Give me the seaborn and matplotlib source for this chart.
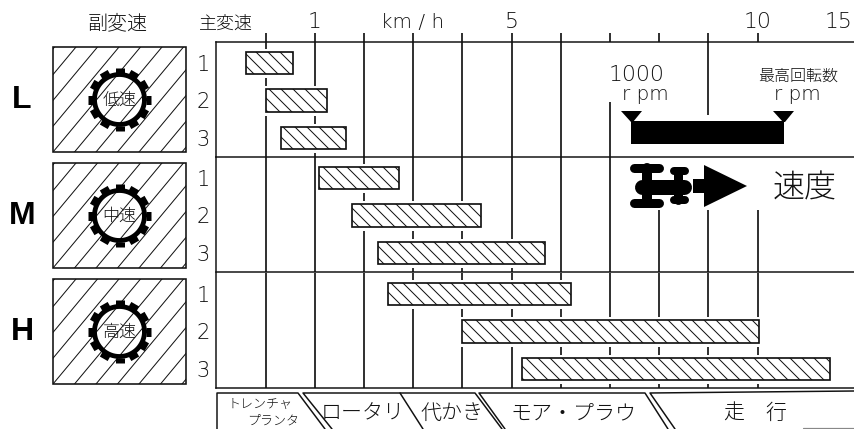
import numpy as np
import seaborn as sns
import matplotlib.pyplot as plt
from matplotlib.patches import Rectangle, Polygon
from matplotlib import patheffects as pe

W, H = 854, 429
FONT = ["Noto Sans CJK JP", "DejaVu Sans"]
LATIN = ["DejaVu Sans", "Noto Sans CJK JP"]
INK = "#111111"

# speed ranges, in km/h as read against the drawn grid
gears = ["L", "M", "H"]
gear_names = ["低速", "中速", "高速"]
main_shift = ["1", "2", "3"]
speed_low = {
    "L": [-0.39, 0.01, 0.31],
    "M": [1.09, 1.75, 2.28],
    "H": [2.49, 3.99, 5.21],
}
speed_high = {
    "L": [0.56, 1.25, 1.64],
    "M": [2.72, 4.38, 5.68],
    "H": [6.21, 10.03, 11.48],
}
grid_speeds = list(range(0, 11))
labelled_speeds = [1, 5, 10]
tab_names = ["ロータリ", "代かき", "モア・プラウ"]

sns.set_theme(style="white")
plt.rcParams["font.family"] = FONT
plt.rcParams["hatch.linewidth"] = 1.0

fig = plt.figure(figsize=(W / 72, H / 72), dpi=72, facecolor="white")


def band_axes(top, bottom, left=216, right=W):
    return fig.add_axes([left / W, 1 - bottom / H, (right - left) / W, (bottom - top) / H])


# grid lines stop short of the rpm block and the tractor sign
# as (speed, axes fraction from, axes fraction to)
grid_cuts = {
    "L": {7: (0, 0.478), 8: None, 9: (0.365, 1), 10: None},
    "M": {8: (0, 0.54), 9: (0, 0.54), 10: (0, 0.54)},
    "H": {},
}

band_tops = [42, 157, 273]
axes = []
for gear, top in zip(gears, band_tops):
    ax = band_axes(top, top + 115)
    axes.append(ax)
    for s in grid_speeds:
        span = grid_cuts[gear].get(s, (0, 1))
        if span is None:
            continue
        ax.plot([s, s], span, color=INK, lw=1.7, transform=ax.get_xaxis_transform(),
                solid_capstyle="butt", zorder=1)
    low = np.array(speed_low[gear])
    high = np.array(speed_high[gear])
    sns.barplot(x=high - low, y=main_shift, left=low, orient="h", ax=ax, color="white",
                saturation=1, width=0.587, edgecolor=INK, linewidth=1.7, hatch="\\\\",
                errorbar=None, zorder=3,
                path_effects=[pe.Stroke(linewidth=7, foreground="white"), pe.Normal()])
    ax.set_xlim((216 - 265.5) / 49.2, (W - 265.5) / 49.2)
    ax.set_ylim(2.5, -0.55)
    ax.set_xlabel("")
    ax.set_ylabel("")
    ax.tick_params(axis="y", length=0, pad=6, labelsize=21, labelcolor=INK,
                   labelfontfamily="DejaVu Sans")
    plt.setp(ax.get_yticklabels(), fontweight="light")
    ax.spines["right"].set_visible(False)
    ax.spines["top"].set_visible(gear == "L")
    for side in ["left", "top", "bottom"]:
        ax.spines[side].set_color(INK)
        ax.spines[side].set_linewidth(1.5)
    ax.patch.set_alpha(0)

for ax in axes[1:]:
    ax.set_xticks([])

# speed scale along the top
top_ax = axes[0]
top_ax.xaxis.tick_top()
top_ax.set_xticks(grid_speeds)
top_ax.set_xticklabels([str(s) if s in labelled_speeds else "" for s in grid_speeds])
top_ax.tick_params(axis="x", top=True, bottom=False, length=9, width=1.7, color=INK,
                   pad=1, labelsize=22, labelcolor=INK,
                   labelfontfamily="DejaVu Sans")
plt.setp(top_ax.get_xticklabels(), fontweight="light")

# everything around the chart is drawn on a sheet in pixel units
sheet = fig.add_axes([0, 0, 1, 1], zorder=10)
sheet.set_xlim(0, W)
sheet.set_ylim(H, 0)
sheet.axis("off")


def label(x, y, s, size, **kw):
    kw.setdefault("color", INK)
    kw.setdefault("fontweight", "light")
    sheet.text(x, y, s, fontsize=size, ha="center", va="center", **kw)


label(118, 24, "副変速", 20)
label(226, 25, "主変速", 18)
label(413, 22, "km / h", 20, family=LATIN)
label(839, 22, "15", 22, family=LATIN)

# sub shift boxes
box_tops = [47, 163, 279]
for gear, name, top in zip(gears, gear_names, box_tops):
    frame = Rectangle((53, top), 133, 105, fc="none", ec=INK, lw=1.6)
    sheet.add_patch(frame)
    for x0 in np.arange(-10, 300, 21.5):
        line, = sheet.plot([x0 - 90, x0], [top + 108, top], color=INK, lw=1.0)
        line.set_clip_path(frame)
    cy = top + 52.5
    theta = np.radians(np.arange(0, 360, 1))
    sheet.plot(119.5 + 25 * np.cos(theta), cy + 25 * np.sin(theta), color="black", lw=4.8)
    for a in np.radians(np.arange(0, 360, 30)):
        sheet.plot([119.5 + 26 * np.cos(a), 119.5 + 31.5 * np.cos(a)],
                   [cy + 26 * np.sin(a), cy + 31.5 * np.sin(a)],
                   color="black", lw=9, solid_capstyle="butt")
    label(119.5, cy + 1, name, 17)
    label(22, cy + 1, gear, 32, family="Liberation Sans", fontweight="bold", color="black")

# engine speed block
sheet.add_patch(Rectangle((631, 121), 153, 23, fc="black", ec="none"))
for x in [632, 784]:
    sheet.add_patch(Polygon([(x - 11, 111), (x + 10, 111), (x + 1, 122), (x - 1, 122)],
                            fc="black", ec="none"))
label(637, 75, "1000", 22, family=LATIN)
label(645, 95, "r pm", 20, family=LATIN)
label(798, 76, "最高回転数", 16)
label(797, 95, "r pm", 20, family=LATIN)

# tractor and arrow
for xs, ys, lw in [([634, 659], [168, 168], 9), ([634, 659], [203, 203], 9),
                   ([647, 647], [168, 203], 10), ([642, 684], [187, 187], 15),
                   ([674, 685], [171, 171], 8), ([674, 685], [200, 200], 8),
                   ([678, 678], [171, 200], 9)]:
    sheet.plot(xs, ys, color="black", lw=lw, solid_capstyle="round")
sheet.add_patch(Rectangle((693, 179), 12, 14, fc="black", ec="none"))
sheet.add_patch(Polygon([(704, 165), (747, 186), (704, 207)], fc="black", ec="none"))
label(805, 188, "速度", 32)

# implement tabs, cut off by the bottom edge
for xs, ys in [([217, 217, 298, 325], [429, 393, 393, 429]),
               ([332, 303, 475, 502], [429, 393, 393, 429]),
               ([400, 423], [393, 429]),
               ([505, 479, 645, 668], [429, 393, 393, 429]),
               ([675, 650, W], [429, 393, 391])]:
    sheet.plot(xs, ys, color=INK, lw=1.5, clip_on=True)
sheet.plot([803, W], [428, 428], color="#888888", lw=1.2)
label(260, 404, "トレンチャ", 13)
label(273, 421, "プランタ", 13)
label(363, 413, tab_names[0], 21)
label(452, 413, tab_names[1], 21)
label(573, 413, tab_names[2], 21)
label(755, 413, "走　行", 21)

fig.savefig("out.png", dpi=72, facecolor="white")
